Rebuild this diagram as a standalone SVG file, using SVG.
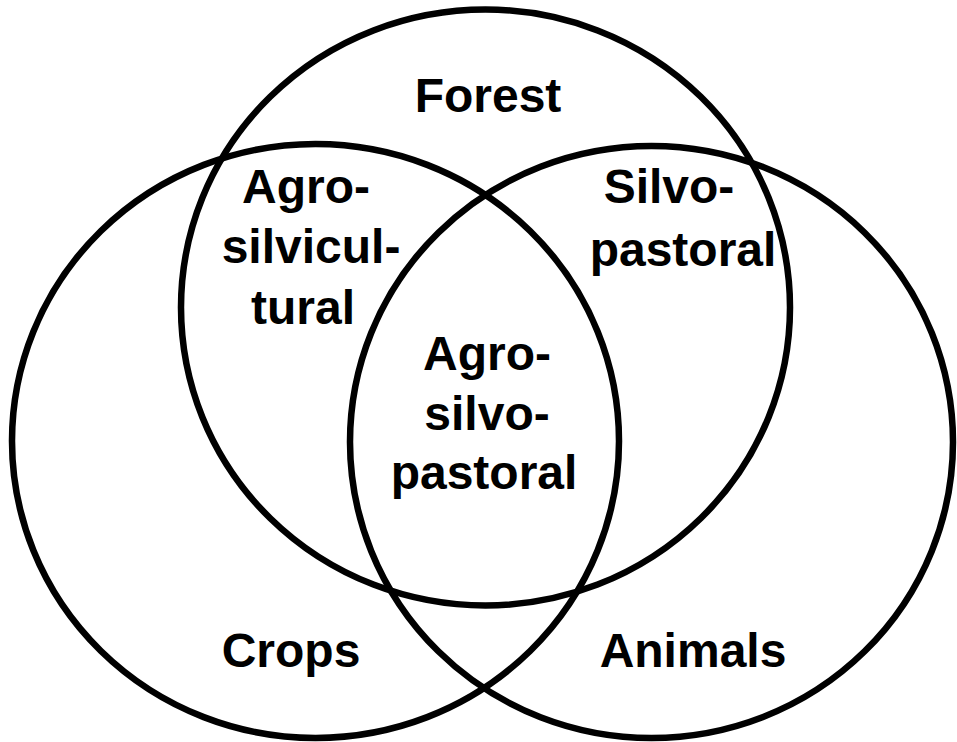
<svg xmlns="http://www.w3.org/2000/svg" width="957" height="742" viewBox="0 0 957 742">
<style>
.c{fill:none;stroke:#000;stroke-width:6.5}
.t{font-family:"Liberation Sans",Arial,sans-serif;font-weight:bold;font-size:48px;fill:#000;text-anchor:middle}
</style>
<rect width="957" height="742" fill="#fff"/>
<g id="forest"><ellipse class="c" cx="485.5" cy="307.5" rx="304.5" ry="298"/><text class="t" x="488" y="112">Forest</text></g>
<g id="crops"><ellipse class="c" cx="315.5" cy="441" rx="303.5" ry="297"/><text class="t" x="291" y="667">Crops</text></g>
<g id="animals"><ellipse class="c" cx="651.5" cy="442" rx="301.5" ry="296"/><text class="t" x="693" y="667">Animals</text></g>
<g id="agrosilvicultural"><text class="t" x="306" y="203">Agro-</text><text class="t" x="311" y="263">silvicul-</text><text class="t" x="303" y="324">tural</text></g>
<g id="silvopastoral"><text class="t" x="669" y="203">Silvo-</text><text class="t" x="683" y="266">pastoral</text></g>
<g id="agrosilvopastoral"><text class="t" x="487" y="370">Agro-</text><text class="t" x="487" y="430">silvo-</text><text class="t" x="484" y="489">pastoral</text></g>
</svg>
